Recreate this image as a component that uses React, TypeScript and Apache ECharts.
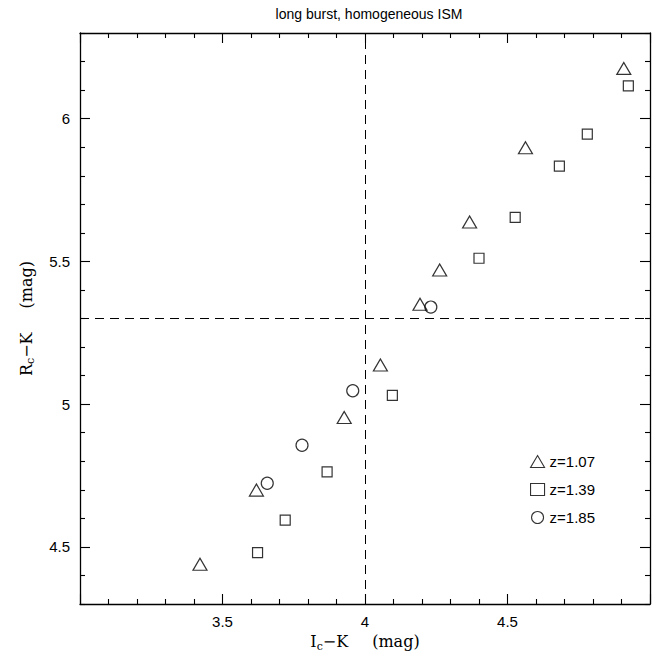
import React, { useEffect, useRef } from 'react';
import * as echarts from 'echarts';

const TITLE = 'long burst, homogeneous ISM';
const SERIES_NAMES = ['z=1.07', 'z=1.39', 'z=1.85'];

// z = 1.07 (triangles)
const triX = [4.908, 4.563, 4.367, 4.262, 4.193, 4.054, 3.927, 3.619, 3.421];
const triY = [6.176, 5.898, 5.638, 5.47, 5.35, 5.137, 4.953, 4.699, 4.439];
// z = 1.39 (squares)
const sqX = [4.924, 4.78, 4.682, 4.527, 4.4, 4.096, 3.867, 3.72, 3.623];
const sqY = [6.115, 5.946, 5.834, 5.654, 5.511, 5.031, 4.763, 4.594, 4.48];
// z = 1.85 (circles)
const cirX = [4.231, 3.957, 3.779, 3.657];
const cirY = [5.34, 5.047, 4.856, 4.723];

const X_MIN = 3;
const X_MAX = 5;
const X_INTERVAL = 0.5;
const X_LABELS = [3.5, 4, 4.5];
const Y_MIN = 4.3;
const Y_MAX = 6.3;
const Y_MAJOR = [4.5, 5, 5.5, 6];
const Y_MINOR = [4.3, 4.4, 4.6, 4.7, 4.8, 4.9, 5.1, 5.2, 5.3, 5.4, 5.6, 5.7, 5.8, 5.9, 6.1, 6.2, 6.3];
const X_REF = 4;
const Y_REF = 5.3;

const zip = (xs: number[], ys: number[]) => xs.map((x, i) => [x, ys[i]]);

export default function App() {
  const ref = useRef<HTMLDivElement>(null);
  useEffect(() => {
    if (!ref.current) return;
    const chart = echarts.init(ref.current, null, { renderer: 'svg' });
    const axisLineStyle = { color: '#000', width: 1.3 };
    const tickStyle = { color: '#000', width: 1.1 };
    const labelFont = { fontFamily: 'Liberation Sans', fontSize: 15, color: '#000' };
    const nameRich = {
      m: { fontFamily: 'DejaVu Serif', fontSize: 16, color: '#000' },
      p: { fontFamily: 'DejaVu Serif', fontSize: 16, color: '#000', padding: [0, 0, 0, 24] },
      s: { fontFamily: 'DejaVu Serif', fontSize: 11, color: '#000', padding: [9, 0, 0, 0] },
    };
    const xBase = (pos: string) => ({
      type: 'value',
      min: X_MIN,
      max: X_MAX,
      interval: X_INTERVAL,
      position: pos,
      axisLine: { show: true, lineStyle: axisLineStyle },
      axisTick: { show: true, inside: true, length: 10, lineStyle: tickStyle },
      minorTick: { show: true, splitNumber: 5, length: 5, lineStyle: tickStyle },
      splitLine: { show: false },
      minorSplitLine: { show: false },
    });
    const yBase = (pos: string, vals: number[], len: number, line: boolean) => ({
      type: 'value',
      min: Y_MIN,
      max: Y_MAX,
      position: pos,
      axisLine: { show: line, lineStyle: axisLineStyle },
      axisTick: { show: true, inside: true, length: len, customValues: vals, lineStyle: tickStyle },
      axisLabel: { show: false },
      splitLine: { show: false },
    });
    const symStyle = { color: 'rgba(0,0,0,0)', borderColor: '#000', borderWidth: 1.2 };
    chart.setOption({
      animation: false,
      backgroundColor: '#fff',
      title: {
        text: TITLE,
        left: 364,
        top: 2,
        textAlign: 'center',
        textStyle: { fontFamily: 'Liberation Sans', fontSize: 14, fontWeight: 'normal', color: '#000' },
      },
      grid: { left: 80, right: 15, top: 33, bottom: 54 },
      legend: {
        orient: 'vertical',
        left: 525,
        top: 449,
        itemWidth: 14,
        itemHeight: 12,
        itemGap: 13,
        itemStyle: { color: 'rgba(0,0,0,0)', borderColor: '#000', borderWidth: 1.1 },
        data: SERIES_NAMES,
        textStyle: { fontFamily: 'Liberation Sans', fontSize: 15, color: '#000' },
      },
      xAxis: [
        {
          ...xBase('bottom'),
          axisLabel: {
            ...labelFont,
            margin: 10,
            customValues: X_LABELS,
            formatter: (v: number) => String(v),
          },
          name: '{m|I}{s|c}{m|\u2212K}{p|(mag)}',
          nameLocation: 'middle',
          nameGap: 27,
          nameTextStyle: { rich: nameRich },
        },
        { ...xBase('top'), axisLabel: { show: false } },
      ],
      yAxis: [
        {
          ...yBase('left', Y_MAJOR, 10, true),
          axisLabel: {
            show: true,
            ...labelFont,
            margin: 10,
            customValues: Y_MAJOR,
            formatter: (v: number) => String(v),
          },
          name: '{m|R}{s|c}{m|\u2212K}{p|(mag)}',
          nameLocation: 'middle',
          nameGap: 44,
          nameTextStyle: { rich: nameRich },
        },
        yBase('left', Y_MINOR, 5, false),
        yBase('right', Y_MAJOR, 10, true),
        yBase('right', Y_MINOR, 5, false),
      ],
      series: [
        {
          name: SERIES_NAMES[0],
          type: 'scatter',
          symbol: 'triangle',
          symbolSize: [14, 12],
          itemStyle: symStyle,
          data: zip(triX, triY),
          markLine: {
            silent: true,
            symbol: ['none', 'none'],
            label: { show: false },
            lineStyle: { color: '#000', width: 1, type: [9, 6] },
            data: [{ xAxis: X_REF }, { yAxis: Y_REF }],
          },
        },
        {
          name: SERIES_NAMES[1],
          type: 'scatter',
          symbol: 'rect',
          symbolSize: 10,
          itemStyle: symStyle,
          data: zip(sqX, sqY),
        },
        {
          name: SERIES_NAMES[2],
          type: 'scatter',
          symbol: 'circle',
          symbolSize: 12,
          itemStyle: symStyle,
          data: zip(cirX, cirY),
        },
      ],
    });
    return () => chart.dispose();
  }, []);
  return (
    <div
      ref={ref}
      style={{ position: 'fixed', left: 0, top: 0, width: 665, height: 658, background: '#fff' }}
    />
  );
}
